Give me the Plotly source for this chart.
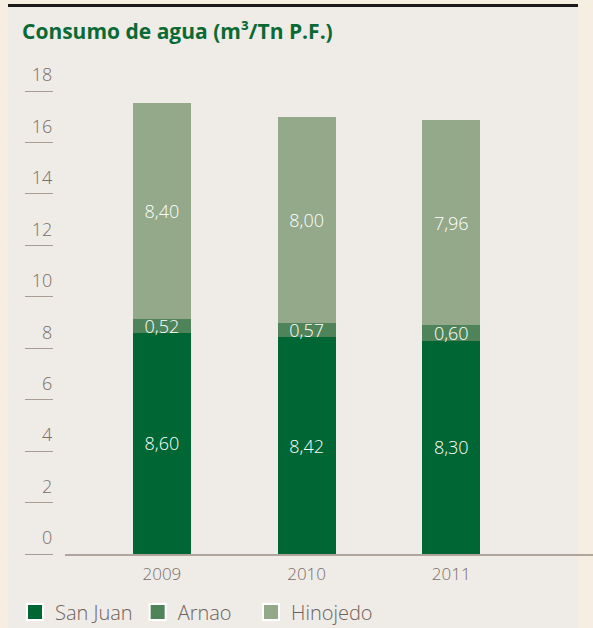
import plotly.graph_objects as go

years = ["2009", "2010", "2011"]
san_juan = [8.60, 8.42, 8.30]
arnao = [0.52, 0.57, 0.60]
hinojedo = [8.40, 8.00, 7.96]
series_names = ["San Juan", "Arnao", "Hinojedo"]
series_colors = ["#006633", "#4f845a", "#93a98a"]
y_ticks = [0, 2, 4, 6, 8, 10, 12, 14, 16, 18]

W, H = 593, 628
FONT = "Open Sans"
GREY = "#7a6e68"
OUTER = "#f6eee1"

fig = go.Figure()
for name, vals, col in zip(series_names, [san_juan, arnao, hinojedo], series_colors):
    fig.add_trace(go.Bar(
        x=years, y=vals, name=name,
        marker=dict(color=col, line=dict(width=0)),
        width=0.40,
        text=vals, texttemplate="%{y:.2f}",
        textposition="inside", insidetextanchor="middle",
        constraintext="none",
        textfont=dict(color="white", size=18, family=FONT, weight=300),
        hoverinfo="skip", showlegend=False,
    ))
# legend entries (square swatches with white border)
legend_ids = ["legend", "legend", "legend2"]
for name, col, lg in zip(series_names, series_colors, legend_ids):
    fig.add_trace(go.Scatter(
        x=[None], y=[None], mode="markers", name=name, legend=lg,
        marker=dict(symbol="square", size=16, color=col, line=dict(color="white", width=2)),
        showlegend=True, hoverinfo="skip",
    ))

legend_style = dict(
    orientation="h", y=1 - 612 / H, xanchor="left", yanchor="middle",
    font=dict(size=20, color="#6d625a", family=FONT, weight=300),
    itemsizing="trace", itemwidth=30, traceorder="normal",
    bgcolor="rgba(0,0,0,0)",
)

fig.update_layout(
    width=W, height=H,
    margin=dict(l=0, r=0, t=0, b=0, autoexpand=False),
    barmode="stack",
    separators=",.",
    uniformtext=dict(minsize=18, mode="show"),
    paper_bgcolor=OUTER,
    plot_bgcolor="rgba(0,0,0,0)",
    font=dict(family=FONT, color=GREY),
    showlegend=True,
    legend=dict(x=15 / W, **legend_style),
    legend2=dict(x=251 / W, **legend_style),
    xaxis=dict(
        domain=[65 / W, 1],
        type="category",
        range=[-0.67, 2.98],
        automargin=False,
        showline=True, linecolor="#b0a59c", linewidth=1.5,
        ticks="", showgrid=False, zeroline=False,
        ticklabelstandoff=4,
        tickfont=dict(size=17, color=GREY, family=FONT, weight=300),
    ),
    yaxis=dict(
        domain=[1 - 554 / H, 1 - 91 / H],
        range=[0, 18],
        anchor="free", position=53 / W,
        automargin=False,
        tickvals=y_ticks,
        ticks="outside", ticklen=28, tickwidth=1.2, tickcolor="#a89d95",
        ticklabelshift=-16, ticklabelstandoff=-31,
        showline=False, showgrid=False, zeroline=False,
        tickfont=dict(size=18, color=GREY, family=FONT, weight=300),
    ),
    title=dict(
        text="Consumo de agua (m³/Tn P.F.)",
        x=22 / W, xanchor="left", y=1 - 32 / H, yanchor="middle",
        automargin=False,
        font=dict(size=21, color="#0a6a35", family=FONT, weight=700),
    ),
    shapes=[
        dict(type="rect", xref="paper", yref="paper", x0=8 / W, x1=578 / W, y0=0, y1=1 - 5 / H,
             fillcolor="#efebe7", line=dict(width=0), layer="below"),
        dict(type="line", xref="paper", yref="paper", x0=8 / W, x1=578 / W, y0=1 - 5.5 / H, y1=1 - 5.5 / H,
             line=dict(color="#1a1a1a", width=3)),
    ],
)

fig.write_html(
    "out.html",
    config={"displayModeBar": False},
    post_script="document.body.style.margin='0';document.body.style.background='" + OUTER + "';",
)
